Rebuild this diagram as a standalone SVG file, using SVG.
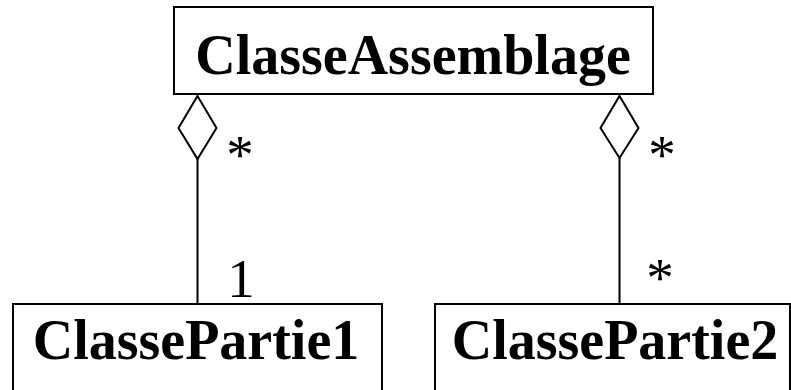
<svg xmlns="http://www.w3.org/2000/svg" width="791" height="390" viewBox="0 0 791 390">
<style>
.box{fill:#fff;stroke:#000;stroke-width:2}
.name{font-family:"Liberation Serif","Times New Roman",serif;font-weight:bold;font-size:56px;text-anchor:middle;fill:#000}
.mult{font-family:"Liberation Serif","Times New Roman",serif;font-size:55px;text-anchor:middle;fill:#000}
.line{stroke:#000;stroke-width:2;fill:none}
.dia{fill:#fff;stroke:#000;stroke-width:2}
</style>
<rect width="791" height="390" fill="#fff"/>
<g id="connectors">
<line class="line" x1="197.5" y1="159" x2="197.5" y2="304"/>
<polygon class="dia" points="197.5,96 216.5,128 197.5,159 178.5,128"/>
<line class="line" x1="619.5" y1="158" x2="619.5" y2="304"/>
<polygon class="dia" points="619.5,96 638.5,128 619.5,158 600.5,128"/>
<text class="mult" x="240" y="173">*</text>
<text class="mult" x="241" y="297">1</text>
<text class="mult" x="662" y="173">*</text>
<text class="mult" x="660" y="296">*</text>
</g>
<g id="ClasseAssemblage">
<rect class="box" x="174" y="7" width="479" height="87"/>
<text class="name" x="413" y="74">ClasseAssemblage</text>
</g>
<g id="ClassePartie1">
<rect class="box" x="13" y="304" width="369" height="100"/>
<text class="name" x="196" y="359">ClassePartie1</text>
</g>
<g id="ClassePartie2">
<rect class="box" x="435" y="304" width="355" height="100"/>
<text class="name" x="615" y="359">ClassePartie2</text>
</g>
</svg>
